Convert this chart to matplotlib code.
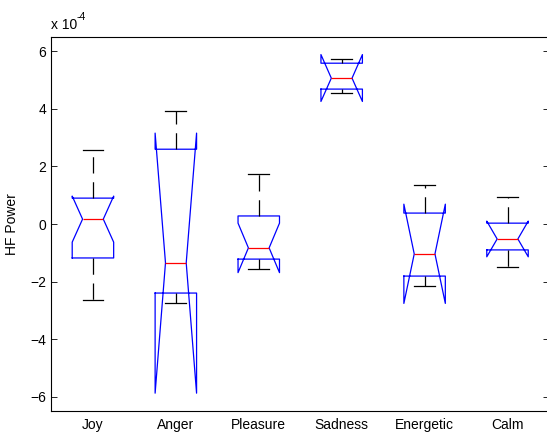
import matplotlib
matplotlib.use("Agg")
import matplotlib.pyplot as plt

# valores en unidades de 1e-4
categorias = ["Joy", "Anger", "Pleasure", "Sadness", "Energetic", "Calm"]
mediana = [0.17, -1.35, -0.83, 5.07, -1.04, -0.52]
q1 = [-1.18, -2.40, -1.22, 4.69, -1.81, -0.90]
q3 = [0.90, 2.60, 0.28, 5.59, 0.38, 0.03]
bigote_inf = [-2.64, -2.74, -1.56, 4.55, -2.15, -1.49]
bigote_sup = [2.57, 3.92, 1.74, 5.73, 1.35, 0.94]
muesca_inf = [-0.63, -5.88, -1.69, 4.26, -2.76, -1.14]
muesca_sup = [0.97, 3.16, 0.03, 5.89, 0.69, 0.10]

plt.rcParams['font.family'] = ['Liberation Sans', 'DejaVu Sans']

stats = []
for i in range(len(categorias)):
    stats.append({
        "label": categorias[i],
        "med": mediana[i],
        "q1": q1[i],
        "q3": q3[i],
        "whislo": bigote_inf[i],
        "whishi": bigote_sup[i],
        "cilo": muesca_inf[i],
        "cihi": muesca_sup[i],
        "fliers": [],
    })

fig = plt.figure(figsize=(5.47, 4.32), dpi=100)
ax = fig.add_axes([0.0941, 0.0486, 0.9095, 0.8657])

ax.bxp(stats, positions=range(1, 7), widths=0.5, shownotches=True,
       showfliers=False,
       boxprops=dict(color=(0, 0, 1), linewidth=0.9),
       medianprops=dict(color=(1, 0, 0), linewidth=0.9),
       whiskerprops=dict(color="black", linewidth=0.9, linestyle=(0, (13, 7))),
       capprops=dict(color="black", linewidth=0.9))

ax.set_xlim(0.5, 6.5)
ax.set_ylim(-6.5, 6.5)
ax.set_yticks([-6, -4, -2, 0, 2, 4, 6])
ax.set_xticks(range(1, 7))
ax.set_xticklabels(categorias)
ax.tick_params(axis="x", length=0, labelsize=10, pad=5)
ax.tick_params(axis="y", direction="in", right=True, length=4, labelsize=10,
               width=0.6, pad=4)
for s in ax.spines.values():
    s.set_linewidth(0.8)
ax.set_ylabel("HF Power", fontsize=10, labelpad=8)

fig.text(0.093, 0.925, "x 10", fontsize=10, ha="left", va="bottom")
fig.text(0.093 + 0.047, 0.95, "-4", fontsize=7.5, ha="left", va="bottom")

fig.savefig("out.png", dpi=100)
